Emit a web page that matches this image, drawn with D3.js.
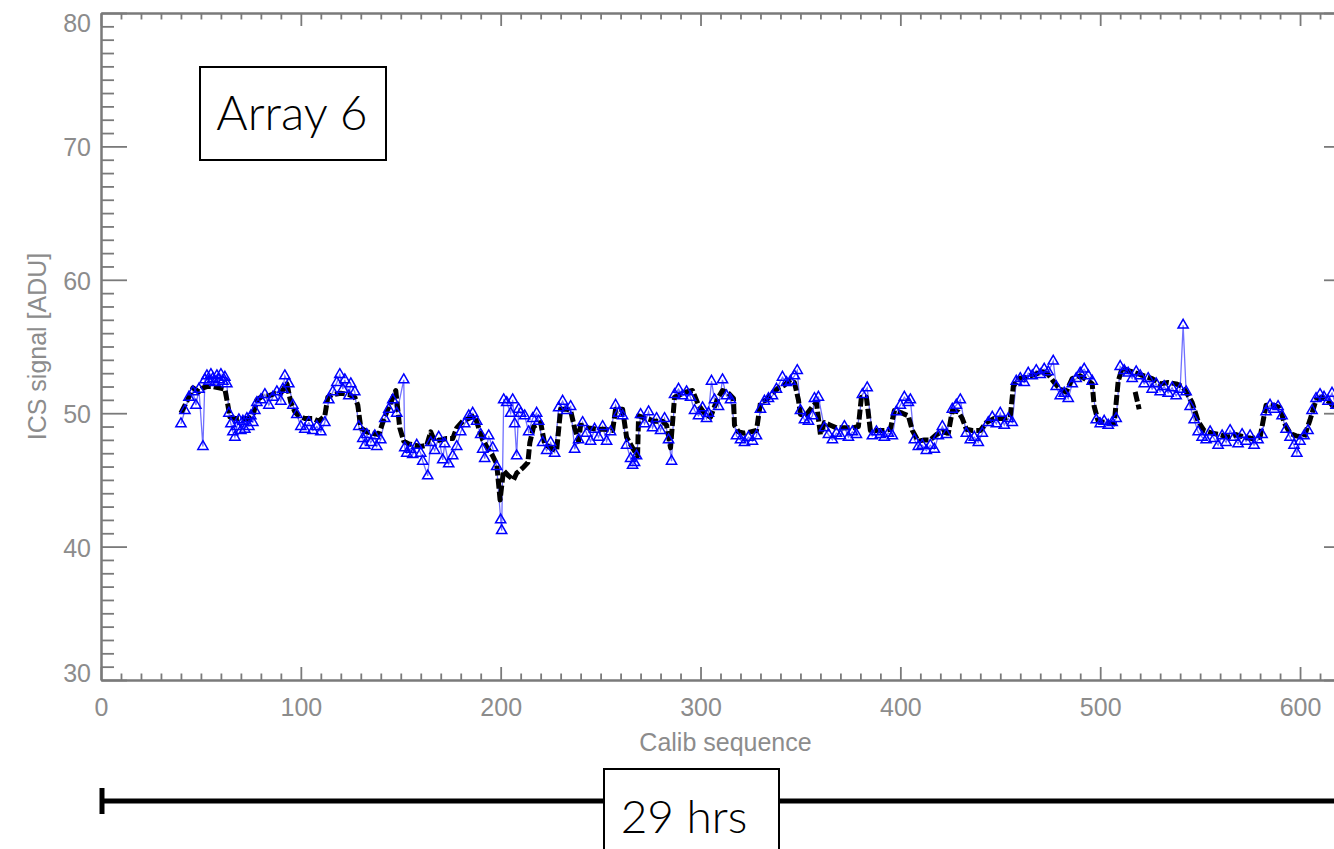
<!DOCTYPE html>
<html><head><meta charset="utf-8">
<script src="https://cdn.jsdelivr.net/npm/d3@7"></script>
<style>html,body{margin:0;padding:0;background:#fff;overflow:hidden}</style>
</head><body>
<svg id="c" width="1334" height="849"></svg>
<script>
// ---- data ----
const xTicks = [0, 100, 200, 300, 400, 500, 600];
const yTicks = [30, 40, 50, 60, 70, 80];
const xLabel = "Calib sequence";
const yLabel = "ICS signal [ADU]";
const panelLabel = "Array 6";
const spanLabel = "29 hrs";

// black (thick) series; null = break
const blackSeq = [40,43,46,49,51,53,56,59,62,63.5,
64.5,67,70,74,76,78,81,84,87,90,
93,95,97,99,102,106,109,112,113.5,116,
120,124,127,128.5,130,133,136,139,141,143,
145,147.5,149.5,151.5,154,157,160,163,165,167,
170,173,176,178,181,184,187,189,191,193,
196,198,199.7,201.4,204,206.4,208,211,213.6,214.6,
216.5,220,222,225,228,230,233,235,237,239,
240,244,248,252,256,257.5,261,263,266,268.5,
269,273,277,281,283,285,287,290,293,296,
299,302,305,307,309,311,314,316.5,317,319,
322,325,328,330,333,336,339,342,345,347,
349,350,353,356,358,360,362,365,368,372,
376,379,380.5,383,385,389,392,395,397,401,
404,406,409,412,415,418,421,424,426,429,
431,433,436,440,443,447,451,455,456.5,459,
463,467,471,474,477,480,483,486,490,493,
496,497,499,503,507,509,511,514,518,522,
526,530,534,538,541,543,546,549,552,556,
560,564,568,572,576,580,583,587,590,592,
595,598,602,605,608,611,615,618,null,517.5,519.5];
const blackVal = [50.0,50.9,51.9,51.6,51.9,52.0,52.0,51.9,51.8,50.6,
49.7,49.6,49.6,49.6,49.8,51.0,51.3,51.3,51.5,51.5,
52.2,50.8,50.1,49.8,49.6,49.6,49.4,49.8,51.2,51.4,
51.5,51.4,51.2,50.6,48.9,48.6,48.5,48.4,49.3,50.1,
50.8,51.7,48.9,47.9,47.7,47.6,47.5,47.6,48.6,47.9,
48.0,48.1,48.1,48.9,49.4,49.6,49.8,48.9,48.0,47.5,
46.8,46.2,43.5,45.7,45.3,45.0,45.5,45.9,46.3,47.8,
49.0,49.3,47.7,47.4,47.2,50.3,50.3,50.2,48.9,47.9,
49.1,48.9,48.8,48.8,48.7,50.3,50.3,48.2,47.4,46.8,
49.8,49.6,49.4,49.4,49.1,47.4,51.2,51.4,51.6,51.7,
50.6,50.0,49.7,50.5,51.2,51.7,51.5,51.1,49.1,48.6,
48.5,48.6,48.7,50.8,51.0,51.5,51.9,52.1,52.5,52.3,
51.0,49.9,49.9,50.5,50.8,48.4,49.3,49.1,48.9,48.9,
48.9,49.0,51.2,51.2,48.7,48.7,48.7,48.8,50.2,50.0,
49.8,48.7,47.9,48.0,48.0,48.4,48.6,48.5,50.2,50.1,
49.6,48.8,48.7,48.7,49.3,49.6,49.6,49.7,52.0,52.6,
52.7,52.9,53.1,52.9,52.3,51.8,51.6,52.6,52.8,52.5,
52.2,50.5,49.4,49.3,49.2,52.4,53.4,53.2,53.0,52.8,
52.6,52.2,52.3,52.2,52.0,51.6,50.8,49.4,48.7,48.5,
48.4,48.2,48.4,48.2,48.1,48.2,50.6,50.6,50.4,49.3,
48.5,48.3,48.2,49.5,51.0,51.2,50.8,50.2,null,51.6,50.3];

// blue (triangles) series
const blueSeq = [40,42,44,46,47.5,49,51,52,53,54,
55,56,57,58,59,60,61,62,63,64,
65,66,67,68,69,70,71,72,73,74,
75,76,77,78,80,82,84,86,88,90,
91,92,94,96,98,100,102,104,106,108,
110,112,114,116,118,119.5,121,122,124,125,
127,129,131,132,133,135,137,138,140,142,
144,146,148,151.5,152,153,155,156,158,160,
161,163.5,165,167,169,171,172,174,176,178,
180,182,184,186,188,190,191,192,194,196,
198,200,200.5,201.5,203,205,206,207,208,209,
210,212,214,216,218,219,221,223,225,227,
229,231,233,235,237,239,241,243,245,247,
249,251,253,255,257.5,259,261,263,265,266,
267,268,270,272,274,276,278,280,282,284,
285.5,287,289,291,293,295,297,299,301,303,
304,305.5,307,309,311,313,315,318,320,322,
324,326,328,330,332,334,336,338,341,343,
345,347,348.4,350,352,354,356,357,359,362,
364,366,368,370,372,374,376,378,381,383.4,
386,388,390,392,394,396,398,400,402,404,
405,407,409,411,413,415,417,419,421,423,
426,428,430,433,435,437,439,441,444,446,
448,450,452,454,456,458,460,462,464,466,
468,470,472,474,476.5,478,480,482,484,486,
488,490,492,494,496,498,500,502,504,506,
508,510,512,514,516,518,520,522,524,526,
528,530,532,534,536,538,540,541.5,543,545,
547,549,551,553,555,557,559,561,563,565,
567,569,571,573,575,577,579,581,583,585,
587,589,591,593,595,597,598.4,600,602,604,
606,608,610,612,614,616,618,620];
const blueVal = [49.2,50.2,51.2,51.6,50.6,51.8,47.5,52.5,52.8,52.4,
52.9,52.6,52.3,52.8,52.5,52.9,52.4,52.7,52.2,50.0,
49.2,48.6,48.2,49.0,49.5,48.7,49.4,48.8,49.6,49.0,
49.8,49.3,50.2,50.8,51.0,51.4,50.6,51.2,51.6,50.9,
51.8,52.8,52.2,50.6,49.9,49.0,48.8,49.3,48.7,49.0,
48.6,49.3,51.0,51.6,52.3,52.9,51.8,52.5,51.3,52.2,
51.6,49.0,48.1,47.6,48.4,47.8,48.3,47.5,48.0,49.6,
50.3,51.0,50.0,52.5,47.4,47.0,47.3,46.9,47.6,47.0,
46.4,45.3,47.8,47.2,48.2,46.5,47.7,46.2,46.8,47.5,
48.6,49.2,49.8,50.0,49.4,48.4,47.3,46.6,48.3,47.4,
46.0,42.0,41.2,51.0,50.8,50.0,51.0,49.2,46.8,50.3,
50.0,49.8,48.6,49.6,50.0,49.4,47.8,47.2,47.8,47.0,
50.4,50.9,50.2,50.5,47.3,48.0,49.3,48.5,47.9,48.8,
48.2,49.0,47.9,48.6,50.6,50.0,49.8,47.6,46.6,46.1,
46.3,46.8,49.9,49.2,50.1,48.9,49.6,48.7,49.6,48.0,
46.4,51.4,51.8,51.3,51.6,51.2,50.2,49.8,50.4,49.6,
50.0,52.4,51.0,50.5,52.5,51.3,51.0,48.3,48.0,47.8,
48.2,47.9,48.3,50.3,50.9,51.1,51.3,51.8,52.7,52.3,
52.4,52.8,53.2,50.2,49.5,49.4,49.8,51.1,51.2,48.9,
48.4,48.0,48.5,48.3,49.0,48.2,48.6,48.4,51.4,51.9,
48.3,48.6,48.4,48.2,48.5,48.3,50.1,50.6,51.2,50.8,
51.0,48.0,47.5,47.6,47.2,47.6,47.3,48.3,49.0,48.4,
50.3,50.6,51.0,48.5,48.0,48.2,47.8,48.5,49.3,49.7,
49.2,50.0,49.1,49.6,49.3,52.4,52.6,52.3,53.0,52.8,
53.2,52.9,53.3,53.1,53.9,52.0,51.3,51.5,51.1,52.2,
52.6,53.0,53.3,52.8,52.4,49.5,49.2,49.4,49.1,49.3,
49.6,53.5,53.2,53.0,52.6,53.1,52.8,52.2,52.6,51.8,
52.2,51.6,52.0,51.5,51.9,51.3,51.8,56.6,51.6,50.5,
49.5,48.6,48.2,48.0,48.6,48.1,47.6,48.3,47.8,48.7,
48.2,47.7,48.4,47.9,48.3,47.6,48.0,48.4,50.1,50.6,
50.3,50.5,49.8,48.8,48.2,47.6,47.0,47.9,48.3,48.7,
50.2,51.1,51.4,51.2,50.9,51.5,50.6,51.0];

// ---- layout ----
const L = 101, T = 13, R = 1350, B = 680;
const svg = d3.select("#c");
const x = d3.scaleLinear().domain([0, 625]).range([L, R]);
const y = d3.scaleLinear().domain([30, 80]).range([B, T]);
const axisColor = "#7a7a7a";
const textColor = "#8c8c8c";
const tickFont = "'Liberation Sans', Arial, sans-serif";

const xMinor = d3.range(0, 626, 10).filter(v => v % 100 !== 0);
const yMinor = d3.range(30, 81, 1).filter(v => v % 10 !== 0);

function styleAxis(g) {
  g.select(".domain").attr("stroke", axisColor).attr("stroke-width", 2);
  g.selectAll(".tick line").attr("stroke", axisColor).attr("stroke-width", 1.8);
  g.selectAll(".tick text").attr("fill", textColor)
    .style("font-family", tickFont).style("font-size", "25px");
}

// minor ticks
svg.append("g").attr("transform", `translate(0,${B})`)
  .call(d3.axisBottom(x).tickValues(xMinor).tickSize(-6.5).tickSizeOuter(0).tickFormat(""))
  .call(styleAxis);
svg.append("g").attr("transform", `translate(0,${T})`)
  .call(d3.axisTop(x).tickValues(xMinor).tickSize(-6.5).tickSizeOuter(0).tickFormat(""))
  .call(styleAxis);
svg.append("g").attr("transform", `translate(${L},0)`)
  .call(d3.axisLeft(y).tickValues(yMinor).tickSize(-13).tickSizeOuter(0).tickFormat(""))
  .call(styleAxis);
svg.append("g").attr("transform", `translate(${R},0)`)
  .call(d3.axisRight(y).tickValues(yMinor).tickSize(-13).tickSizeOuter(0).tickFormat(""))
  .call(styleAxis);

// major ticks
const gx = svg.append("g").attr("transform", `translate(0,${B})`)
  .call(d3.axisBottom(x).tickValues(xTicks).tickSize(-13).tickSizeOuter(0).tickPadding(18).tickFormat(d3.format("d")))
  .call(styleAxis);
gx.selectAll(".tick text").attr("dy", "0.71em");
svg.append("g").attr("transform", `translate(0,${T})`)
  .call(d3.axisTop(x).tickValues(xTicks).tickSize(-13).tickSizeOuter(0).tickFormat(""))
  .call(styleAxis);
const gy = svg.append("g").attr("transform", `translate(${L},0)`)
  .call(d3.axisLeft(y).tickValues(yTicks).tickSize(-26).tickSizeOuter(0).tickPadding(10).tickFormat(d3.format("d")))
  .call(styleAxis);
gy.selectAll(".tick text").attr("dy", d => d === 80 ? "0.72em" : d === 30 ? "0.05em" : "0.38em");
svg.append("g").attr("transform", `translate(${R},0)`)
  .call(d3.axisRight(y).tickValues(yTicks).tickSize(-26).tickSizeOuter(0).tickFormat(""))
  .call(styleAxis);

// axis titles
svg.append("text").attr("x", (L + R) / 2).attr("y", 751).attr("text-anchor", "middle")
  .attr("fill", textColor).style("font-family", tickFont).style("font-size", "25px").text(xLabel);
svg.append("text").attr("transform", `translate(46,${(T + B) / 2}) rotate(-90)`)
  .attr("text-anchor", "middle").attr("fill", textColor)
  .style("font-family", tickFont).style("font-size", "25px").text(yLabel);

// clip
svg.append("clipPath").attr("id", "plotclip").append("rect")
  .attr("x", L).attr("y", T).attr("width", R - L).attr("height", B - T);
const plot = svg.append("g").attr("clip-path", "url(#plotclip)");

const blue = blueSeq.map((s, i) => [s, blueVal[i]]);
const black = blackSeq.map((s, i) => [s, blackVal[i]]);

const line = d3.line().defined(d => d[0] != null && d[1] != null)
  .x(d => x(d[0])).y(d => y(d[1]));

plot.append("path").datum(blue).attr("d", line)
  .attr("fill", "none").attr("stroke", "#7070ff").attr("stroke-width", 1.3);
plot.append("path").datum(black).attr("d", line)
  .attr("fill", "none").attr("stroke", "#000").attr("stroke-width", 5)
  .attr("stroke-dasharray", "10 3").attr("stroke-linejoin", "round");
const tri = d3.symbol().type(d3.symbolTriangle).size(45);
plot.selectAll("path.tri").data(blue).join("path").attr("class", "tri")
  .attr("transform", d => `translate(${x(d[0])},${y(d[1])})`)
  .attr("d", tri).attr("fill", "none").attr("stroke", "#0000ff").attr("stroke-width", 1.5);

// panel label box
const labelFont = "Lato, 'Open Sans', sans-serif";
svg.append("rect").attr("x", 200).attr("y", 67).attr("width", 186).attr("height", 93)
  .attr("fill", "#fff").attr("stroke", "#000").attr("stroke-width", 2);
svg.append("text").attr("x", 292).attr("y", 130).attr("text-anchor", "middle")
  .style("font-family", labelFont).style("font-weight", 300).style("font-size", "48px")
  .attr("fill", "#000").text(panelLabel);

// time span bracket
svg.append("line").attr("x1", 101).attr("x2", 1334).attr("y1", 801).attr("y2", 801)
  .attr("stroke", "#000").attr("stroke-width", 5);
svg.append("line").attr("x1", 102).attr("x2", 102).attr("y1", 788).attr("y2", 814)
  .attr("stroke", "#000").attr("stroke-width", 5);
svg.append("rect").attr("x", 604).attr("y", 769).attr("width", 175).attr("height", 100)
  .attr("fill", "#fff").attr("stroke", "#000").attr("stroke-width", 2);
svg.append("text").attr("x", 684).attr("y", 833).attr("text-anchor", "middle")
  .style("font-family", labelFont).style("font-weight", 300).style("font-size", "46px")
  .attr("fill", "#000").text(spanLabel);
</script>
</body></html>
